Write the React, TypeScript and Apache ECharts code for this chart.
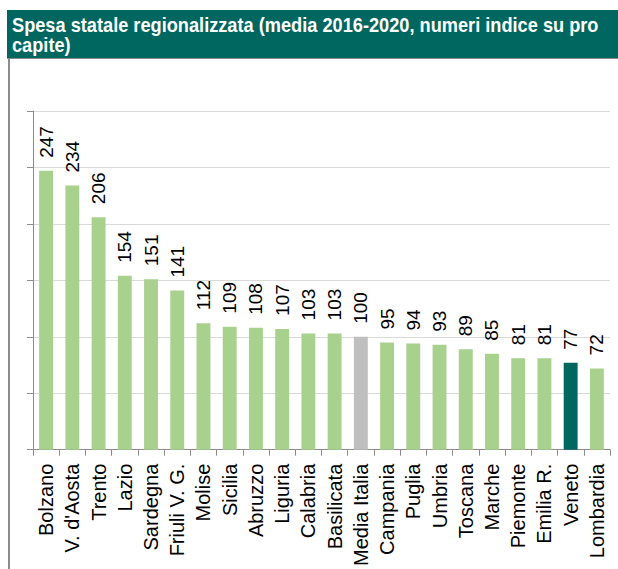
import React, { useEffect, useRef } from "react";
import * as echarts from "echarts";

const categories = ["Bolzano", "V. d'Aosta", "Trento", "Lazio", "Sardegna", "Friuli V. G.", "Molise", "Sicilia", "Abruzzo", "Liguria", "Calabria", "Basilicata", "Media Italia", "Campania", "Puglia", "Umbria", "Toscana", "Marche", "Piemonte", "Emilia R.", "Veneto", "Lombardia"];
const values = [247, 234, 206, 154, 151, 141, 112, 109, 108, 107, 103, 103, 100, 95, 94, 93, 89, 85, 81, 81, 77, 72];
const titleText = "Spesa statale regionalizzata (media 2016-2020, numeri indice su pro\ncapite)";
const highlightAverage = "Media Italia";
const highlightRegion = "Veneto";

const GREEN = "#a9d18e";
const GREY = "#bfbfbf";
const DARK = "#006660";

export default function App() {
  const ref = useRef<HTMLDivElement>(null);
  useEffect(() => {
    if (!ref.current) return;
    const chart = echarts.init(ref.current, null, { renderer: "svg" });
    chart.setOption({
      animation: false,
      backgroundColor: "#ffffff",
      graphic: [
        { type: "rect", shape: { x: 7, y: 10, width: 611, height: 48 }, style: { fill: DARK } },
        { type: "line", shape: { x1: 9, y1: 58, x2: 9, y2: 569 }, style: { stroke: "#8c8c8c", lineWidth: 2 } },
        { type: "line", shape: { x1: 7, y1: 58.5, x2: 618, y2: 58.5 }, style: { stroke: "#8c8c8c", lineWidth: 1 } },
        {
          type: "text",
          x: 12,
          y: 15,
          scaleY: 1.1,
          style: {
            text: titleText,
            fill: "#ffffff",
            font: "bold 18.2px 'Liberation Sans', Arial, sans-serif",
            lineHeight: 18.5,
          },
        },
      ],
      grid: { left: 33, right: 8, top: 111, bottom: 114, containLabel: false },
      xAxis: {
        type: "category",
        data: categories,
        axisLine: { show: true, lineStyle: { color: "#8c8c8c", width: 1 } },
        axisTick: { show: true, length: 6, lineStyle: { color: "#8c8c8c" } },
        axisLabel: {
          rotate: 90,
          interval: 0,
          margin: 14,
          color: "#000",
          fontSize: 20,
          fontFamily: "'Liberation Sans', Arial, sans-serif",
        },
      },
      yAxis: {
        type: "value",
        min: 0,
        max: 300,
        interval: 50,
        axisLine: { show: true, lineStyle: { color: "#8c8c8c", width: 1 } },
        axisTick: { show: true, length: 6, lineStyle: { color: "#8c8c8c" } },
        axisLabel: { show: false },
        splitLine: { show: true, lineStyle: { color: "#d9d9d9", width: 1 } },
      },
      series: [
        {
          type: "bar",
          barWidth: "53%",
          data: values.map((v, i) => ({
            value: v,
            itemStyle: {
              color: categories[i] === highlightAverage ? GREY : categories[i] === highlightRegion ? DARK : GREEN,
            },
          })),
          label: {
            show: true,
            position: "top",
            rotate: 90,
            align: "left",
            verticalAlign: "middle",
            distance: 13,
            color: "#000",
            fontSize: 19,
            fontFamily: "'Liberation Sans', Arial, sans-serif",
          },
        },
      ],
    });
    return () => chart.dispose();
  }, []);
  return <div ref={ref} style={{ position: "absolute", left: 0, top: 0, width: 618, height: 569 }} />;
}
